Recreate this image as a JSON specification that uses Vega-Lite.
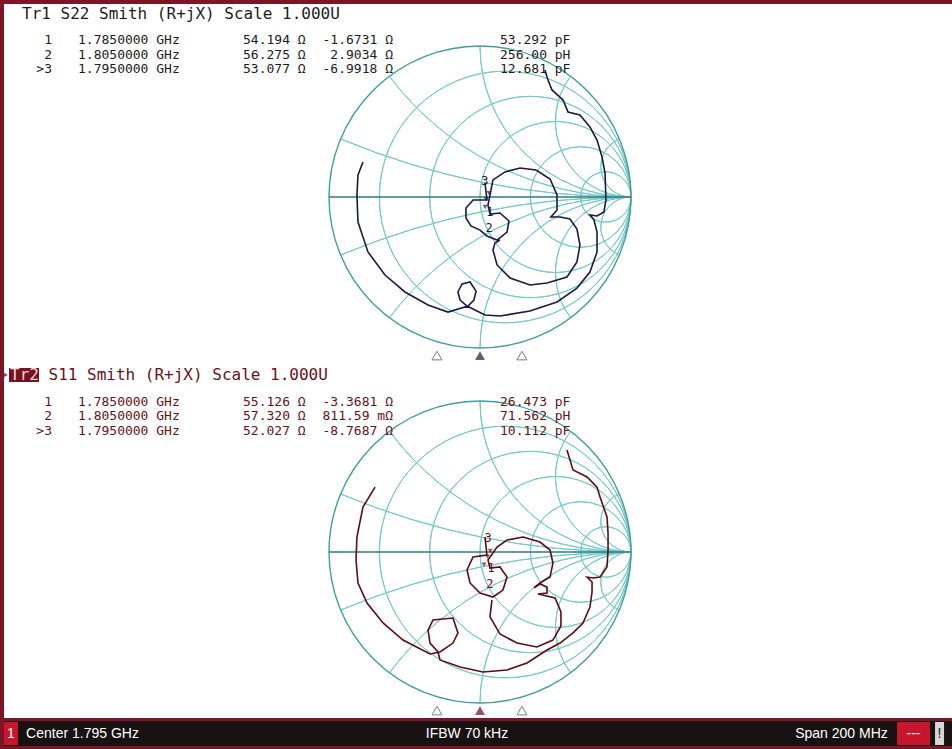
{
  "$schema": "https://vega.github.io/schema/vega-lite/v6.json",
  "background": "#7c1626",
  "padding": {"left": 4, "top": 4, "right": 0, "bottom": 3},
  "config": {"view": {"stroke": null, "fill": "#ffffff"}, "text": {"font": "DejaVu Sans Mono", "fontSize": 13}},
  "datasets": {
    "grid": [
      {"x": 0.1667, "y": 0, "rad": 0.8333, "t1": 0, "t2": 360},
      {"x": 0.3333, "y": 0, "rad": 0.6667, "t1": 0, "t2": 360},
      {"x": 0.5, "y": 0, "rad": 0.5, "t1": 0, "t2": 360},
      {"x": 0.6667, "y": 0, "rad": 0.3333, "t1": 0, "t2": 360},
      {"x": 0.8333, "y": 0, "rad": 0.1667, "t1": 0, "t2": 360},
      {"x": 1, "y": 5, "rad": 5, "t1": 180, "t2": 202.62},
      {"x": 1, "y": 2, "rad": 2, "t1": 180, "t2": 233.13},
      {"x": 1, "y": 1, "rad": 1, "t1": 180, "t2": 270},
      {"x": 1, "y": 0.5, "rad": 0.5, "t1": 180, "t2": 306.87},
      {"x": 1, "y": 0.2, "rad": 0.2, "t1": 180, "t2": 337.38},
      {"x": 1, "y": -5, "rad": 5, "t1": -22.62, "t2": 0},
      {"x": 1, "y": -2, "rad": 2, "t1": -53.13, "t2": 0},
      {"x": 1, "y": -1, "rad": 1, "t1": -90, "t2": 0},
      {"x": 1, "y": -0.5, "rad": 0.5, "t1": -126.87, "t2": 0},
      {"x": 1, "y": -0.2, "rad": 0.2, "t1": -157.38, "t2": 0}
    ],
    "rim": [{"x": 0, "y": 0, "rad": 1, "t1": 0, "t2": 360}],
    "axis": [{"x": -1, "x2": 1, "y": 0}],
    "tri": [{"x": -0.285, "y": -1.05, "a": 0}, {"x": 0, "y": -1.05, "a": 1}, {"x": 0.278, "y": -1.05, "a": 0}],
    "trace1": [
      {"seg": "a", "x": 0.430, "y": 0.841}, {"seg": "a", "x": 0.450, "y": 0.775}, {"seg": "a", "x": 0.477, "y": 0.709},
      {"seg": "a", "x": 0.550, "y": 0.642}, {"seg": "a", "x": 0.583, "y": 0.563}, {"seg": "a", "x": 0.662, "y": 0.543},
      {"seg": "a", "x": 0.728, "y": 0.464}, {"seg": "a", "x": 0.775, "y": 0.377}, {"seg": "a", "x": 0.808, "y": 0.265},
      {"seg": "a", "x": 0.828, "y": 0.159}, {"seg": "a", "x": 0.834, "y": -0.020}, {"seg": "a", "x": 0.821, "y": -0.099},
      {"seg": "a", "x": 0.775, "y": -0.126}, {"seg": "a", "x": 0.728, "y": -0.119}, {"seg": "a", "x": 0.755, "y": -0.152},
      {"seg": "a", "x": 0.775, "y": -0.232}, {"seg": "a", "x": 0.775, "y": -0.364}, {"seg": "a", "x": 0.728, "y": -0.497},
      {"seg": "a", "x": 0.642, "y": -0.603}, {"seg": "a", "x": 0.510, "y": -0.695}, {"seg": "a", "x": 0.331, "y": -0.755},
      {"seg": "a", "x": 0.132, "y": -0.788}, {"seg": "a", "x": 0.033, "y": -0.781}, {"seg": "a", "x": -0.086, "y": -0.722},
      {"seg": "a", "x": -0.132, "y": -0.682}, {"seg": "a", "x": -0.146, "y": -0.629}, {"seg": "a", "x": -0.119, "y": -0.576},
      {"seg": "a", "x": -0.066, "y": -0.563}, {"seg": "a", "x": -0.026, "y": -0.623}, {"seg": "a", "x": -0.040, "y": -0.682},
      {"seg": "a", "x": -0.079, "y": -0.722}, {"seg": "a", "x": -0.212, "y": -0.762}, {"seg": "a", "x": -0.344, "y": -0.715},
      {"seg": "a", "x": -0.497, "y": -0.629}, {"seg": "a", "x": -0.629, "y": -0.517}, {"seg": "a", "x": -0.742, "y": -0.364},
      {"seg": "a", "x": -0.808, "y": -0.166}, {"seg": "a", "x": -0.815, "y": 0.013}, {"seg": "a", "x": -0.808, "y": 0.146},
      {"seg": "a", "x": -0.775, "y": 0.232},
      {"seg": "b", "x": 0.033, "y": 0.093}, {"seg": "b", "x": 0.046, "y": -0.020}, {"seg": "b", "x": -0.046, "y": -0.020},
      {"seg": "b", "x": -0.093, "y": -0.073}, {"seg": "b", "x": -0.093, "y": -0.139}, {"seg": "b", "x": -0.060, "y": -0.192},
      {"seg": "b", "x": 0.000, "y": -0.219}, {"seg": "b", "x": 0.046, "y": -0.258}, {"seg": "b", "x": 0.113, "y": -0.285},
      {"seg": "b", "x": 0.179, "y": -0.232}, {"seg": "b", "x": 0.192, "y": -0.159}, {"seg": "b", "x": 0.132, "y": -0.106},
      {"seg": "b", "x": 0.066, "y": -0.113}, {"seg": "b", "x": 0.053, "y": -0.053}, {"seg": "b", "x": 0.086, "y": 0.113},
      {"seg": "b", "x": 0.166, "y": 0.166}, {"seg": "b", "x": 0.265, "y": 0.192}, {"seg": "b", "x": 0.371, "y": 0.179},
      {"seg": "b", "x": 0.464, "y": 0.119}, {"seg": "b", "x": 0.510, "y": 0.013}, {"seg": "b", "x": 0.510, "y": -0.086},
      {"seg": "b", "x": 0.470, "y": -0.132}, {"seg": "b", "x": 0.530, "y": -0.132}, {"seg": "b", "x": 0.596, "y": -0.146},
      {"seg": "b", "x": 0.642, "y": -0.212}, {"seg": "b", "x": 0.662, "y": -0.318}, {"seg": "b", "x": 0.642, "y": -0.430},
      {"seg": "b", "x": 0.576, "y": -0.530}, {"seg": "b", "x": 0.444, "y": -0.570}, {"seg": "b", "x": 0.331, "y": -0.583},
      {"seg": "b", "x": 0.199, "y": -0.536}, {"seg": "b", "x": 0.113, "y": -0.450}, {"seg": "b", "x": 0.086, "y": -0.351},
      {"seg": "b", "x": 0.099, "y": -0.305}, {"seg": "b", "x": 0.132, "y": -0.285}
    ],
    "trace2": [
      {"seg": "a", "x": 0.576, "y": 0.675}, {"seg": "a", "x": 0.616, "y": 0.543}, {"seg": "a", "x": 0.709, "y": 0.497},
      {"seg": "a", "x": 0.775, "y": 0.430}, {"seg": "a", "x": 0.795, "y": 0.364}, {"seg": "a", "x": 0.841, "y": 0.232},
      {"seg": "a", "x": 0.848, "y": 0.126}, {"seg": "a", "x": 0.848, "y": 0.013}, {"seg": "a", "x": 0.841, "y": -0.099},
      {"seg": "a", "x": 0.795, "y": -0.166}, {"seg": "a", "x": 0.748, "y": -0.172}, {"seg": "a", "x": 0.709, "y": -0.166},
      {"seg": "a", "x": 0.742, "y": -0.199}, {"seg": "a", "x": 0.742, "y": -0.265}, {"seg": "a", "x": 0.728, "y": -0.364},
      {"seg": "a", "x": 0.682, "y": -0.470}, {"seg": "a", "x": 0.616, "y": -0.536}, {"seg": "a", "x": 0.530, "y": -0.603},
      {"seg": "a", "x": 0.444, "y": -0.649}, {"seg": "a", "x": 0.311, "y": -0.735}, {"seg": "a", "x": 0.179, "y": -0.781},
      {"seg": "a", "x": 0.020, "y": -0.795}, {"seg": "a", "x": -0.132, "y": -0.762}, {"seg": "a", "x": -0.265, "y": -0.715},
      {"seg": "a", "x": -0.278, "y": -0.662}, {"seg": "a", "x": -0.331, "y": -0.603}, {"seg": "a", "x": -0.344, "y": -0.517},
      {"seg": "a", "x": -0.311, "y": -0.450}, {"seg": "a", "x": -0.179, "y": -0.437}, {"seg": "a", "x": -0.146, "y": -0.536},
      {"seg": "a", "x": -0.179, "y": -0.603}, {"seg": "a", "x": -0.265, "y": -0.662}, {"seg": "a", "x": -0.331, "y": -0.675},
      {"seg": "a", "x": -0.510, "y": -0.583}, {"seg": "a", "x": -0.642, "y": -0.470}, {"seg": "a", "x": -0.748, "y": -0.338},
      {"seg": "a", "x": -0.808, "y": -0.205}, {"seg": "a", "x": -0.821, "y": -0.053}, {"seg": "a", "x": -0.815, "y": 0.099},
      {"seg": "a", "x": -0.775, "y": 0.298}, {"seg": "a", "x": -0.695, "y": 0.430},
      {"seg": "b", "x": 0.033, "y": 0.099}, {"seg": "b", "x": 0.046, "y": -0.020}, {"seg": "b", "x": -0.046, "y": -0.033},
      {"seg": "b", "x": -0.086, "y": -0.119}, {"seg": "b", "x": -0.066, "y": -0.205}, {"seg": "b", "x": 0.000, "y": -0.272},
      {"seg": "b", "x": 0.086, "y": -0.298}, {"seg": "b", "x": 0.152, "y": -0.252}, {"seg": "b", "x": 0.179, "y": -0.166},
      {"seg": "b", "x": 0.132, "y": -0.099}, {"seg": "b", "x": 0.066, "y": -0.106}, {"seg": "b", "x": 0.053, "y": -0.053},
      {"seg": "b", "x": 0.113, "y": 0.033}, {"seg": "b", "x": 0.179, "y": 0.079}, {"seg": "b", "x": 0.285, "y": 0.099},
      {"seg": "b", "x": 0.397, "y": 0.066}, {"seg": "b", "x": 0.464, "y": 0.013}, {"seg": "b", "x": 0.483, "y": -0.073},
      {"seg": "b", "x": 0.464, "y": -0.166}, {"seg": "b", "x": 0.397, "y": -0.205}, {"seg": "b", "x": 0.358, "y": -0.238},
      {"seg": "b", "x": 0.397, "y": -0.212}, {"seg": "b", "x": 0.444, "y": -0.232}, {"seg": "b", "x": 0.444, "y": -0.272},
      {"seg": "b", "x": 0.384, "y": -0.278}, {"seg": "b", "x": 0.497, "y": -0.305}, {"seg": "b", "x": 0.536, "y": -0.397},
      {"seg": "b", "x": 0.536, "y": -0.490}, {"seg": "b", "x": 0.483, "y": -0.583}, {"seg": "b", "x": 0.377, "y": -0.629},
      {"seg": "b", "x": 0.245, "y": -0.603}, {"seg": "b", "x": 0.132, "y": -0.543}, {"seg": "b", "x": 0.066, "y": -0.430},
      {"seg": "b", "x": 0.079, "y": -0.318}
    ],
    "mk1": [{"x": 0.0405, "y": -0.0154}, {"x": 0.0598, "y": 0.0257}, {"x": 0.0343, "y": -0.0655}],
    "mk2": [{"x": 0.0497, "y": -0.0305}, {"x": 0.0682, "y": 0.0070}, {"x": 0.0270, "y": -0.0836}],
    "lb1": [{"x": 0.033, "y": 0.106, "t": "3"}, {"x": 0.066, "y": -0.099, "t": "1"}, {"x": 0.060, "y": -0.205, "t": "2"}],
    "lb2": [{"x": 0.053, "y": 0.093, "t": "3"}, {"x": 0.073, "y": -0.106, "t": "1"}, {"x": 0.066, "y": -0.212, "t": "2"}],
    "hd1": [{"x": -3.0331, "y": 1.2119, "t": "Tr1 S22 Smith (R+jX) Scale 1.000U"}],
    "ro1": [
      {"y": 1.0397,
       "n": ["1", "2", ">3"],
       "f": ["1.7850000 GHz", "1.8050000 GHz", "1.7950000 GHz"],
       "r": ["54.194 Ω", "56.275 Ω", "53.077 Ω"],
       "v": ["-1.6731 Ω", "2.9034 Ω", "-6.9918 Ω"],
       "c": ["53.292 pF", "256.00 pH", "12.681 pF"]}
    ],
    "box2": [{"x": -3.1192, "x2": -2.9205, "y": 1.2185, "y2": 1.1258}],
    "arr2": [{"x": -3.1457, "y": 1.1722}],
    "hd2": [{"x": -2.8576, "y": 1.1722, "t": "S11 Smith (R+jX) Scale 1.000U"}],
    "hd2b": [{"x": -3.1126, "y": 1.1722, "t": "Tr2"}],
    "ro2": [
      {"y": 0.9934,
       "n": ["1", "2", ">3"],
       "f": ["1.7850000 GHz", "1.8050000 GHz", "1.7950000 GHz"],
       "r": ["55.126 Ω", "57.320 Ω", "52.027 Ω"],
       "v": ["-3.3681 Ω", "811.59 mΩ", "-8.7687 Ω"],
       "c": ["26.473 pF", "71.562 pH", "10.112 pF"]}
    ],
    "sbox": [
      {"x": 0, "x2": 0.0148, "y": 0.04, "y2": 0.96, "k": "red"},
      {"x": 0.942, "x2": 0.9768, "y": 0.04, "y2": 0.96, "k": "red"},
      {"x": 0.9821, "x2": 0.9916, "y": 0.04, "y2": 0.96, "k": "gray"}
    ],
    "stext": [
      {"x": 0.0074, "y": 0.5, "t": "1"},
      {"x": 0.0828, "y": 0.5, "t": "Center 1.795 GHz"},
      {"x": 0.4884, "y": 0.5, "t": "IFBW 70 kHz"},
      {"x": 0.8834, "y": 0.5, "t": "Span 200 MHz"},
      {"x": 0.9594, "y": 0.5, "t": "---"},
      {"x": 0.9868, "y": 0.5, "t": "!"}
    ]
  },
  "spacing": 3,
  "vconcat": [
    {
      "spacing": 0,
      "vconcat": [
        {
          "width": 948,
          "height": 357,
          "encoding": {
            "y": {"field": "y", "type": "quantitative", "scale": {"domain": [-1.08609, 1.27815], "nice": false, "zero": false}, "axis": null}
          },
          "layer": [
            {"data": {"name": "grid"}, "mark": {"type": "arc", "filled": false, "color": "#72cbc9", "strokeWidth": 1, "clip": true},
             "encoding": {"x": {"field": "x", "type": "quantitative", "scale": {"domain": [-3.15232, 3.12583], "nice": false, "zero": false}, "axis": null},
                          "radius": {"field": "rad", "type": "quantitative", "scale": {"type": "linear", "domain": [0, 1], "range": [0, 151], "zero": true, "nice": false}},
                          "radius2": {"field": "rad"},
                          "theta": {"field": "t1", "type": "quantitative", "stack": null, "scale": {"type": "linear", "domain": [0, 360], "range": [0, 6.283185307], "zero": false, "nice": false}},
                          "theta2": {"field": "t2"}}},
            {"data": {"name": "rim"}, "mark": {"type": "arc", "filled": false, "color": "#3f9f9f", "strokeWidth": 1.4, "clip": true},
             "encoding": {"x": {"field": "x", "type": "quantitative", "scale": {"domain": [-3.15232, 3.12583], "nice": false, "zero": false}, "axis": null},
                          "radius": {"field": "rad", "type": "quantitative", "scale": {"type": "linear", "domain": [0, 1], "range": [0, 151], "zero": true, "nice": false}},
                          "radius2": {"field": "rad"},
                          "theta": {"field": "t1", "type": "quantitative", "stack": null, "scale": {"type": "linear", "domain": [0, 360], "range": [0, 6.283185307], "zero": false, "nice": false}},
                          "theta2": {"field": "t2"}}},
            {"data": {"name": "axis"}, "mark": {"type": "rule", "color": "#2e7d7e", "strokeWidth": 1.5},
             "encoding": {"x": {"field": "x", "type": "quantitative", "scale": {"domain": [-3.15232, 3.12583], "nice": false, "zero": false}, "axis": null}, "x2": {"field": "x2"}}},
            {"data": {"name": "trace1"}, "mark": {"type": "line", "color": "#1a1a48", "strokeWidth": 1.6, "clip": true},
             "encoding": {"x": {"field": "x", "type": "quantitative", "scale": {"domain": [-3.15232, 3.12583], "nice": false, "zero": false}, "axis": null}, "detail": {"field": "seg"}, "order": {"value": null}}},
            {"data": {"name": "mk1"}, "mark": {"type": "point", "shape": "triangle-down", "filled": true, "size": 24, "color": "#1a1a48"},
             "encoding": {"x": {"field": "x", "type": "quantitative", "scale": {"domain": [-3.15232, 3.12583], "nice": false, "zero": false}, "axis": null}}},
            {"data": {"name": "lb1"}, "mark": {"type": "text", "fontSize": 12, "baseline": "middle", "color": "#1a1a48"},
             "encoding": {"x": {"field": "x", "type": "quantitative", "scale": {"domain": [-3.15232, 3.12583], "nice": false, "zero": false}, "axis": null}, "text": {"field": "t"}}},
            {"data": {"name": "tri"}, "transform": [{"filter": "datum.a == 0"}], "mark": {"type": "point", "shape": "triangle-up", "filled": false, "size": 100, "color": "#444444", "strokeWidth": 1, "clip": true},
             "encoding": {"x": {"field": "x", "type": "quantitative", "scale": {"domain": [-3.15232, 3.12583], "nice": false, "zero": false}, "axis": null}}},
            {"data": {"name": "tri"}, "transform": [{"filter": "datum.a == 1"}], "mark": {"type": "point", "shape": "triangle-up", "filled": true, "size": 100, "color": "#1a1a48", "clip": true},
             "encoding": {"x": {"field": "x", "type": "quantitative", "scale": {"domain": [-3.15232, 3.12583], "nice": false, "zero": false}, "axis": null}}},
            {"data": {"name": "hd1"}, "mark": {"type": "text", "fontSize": 16, "align": "left", "baseline": "middle", "color": "#1c1c1c", "clip": true},
             "encoding": {"x": {"field": "x", "type": "quantitative", "scale": {"domain": [-3.15232, 3.12583], "nice": false, "zero": false}, "axis": null}, "text": {"field": "t"}}},
            {"data": {"name": "ro1"}, "mark": {"type": "text", "align": "right", "baseline": "middle", "lineHeight": 14.5, "color": "#1c1c1c"},
             "encoding": {"x": {"datum": -2.8344, "type": "quantitative", "scale": {"domain": [-3.15232, 3.12583], "nice": false, "zero": false}, "axis": null}, "text": {"field": "n"}}},
            {"data": {"name": "ro1"}, "mark": {"type": "text", "align": "left", "baseline": "middle", "lineHeight": 14.5, "color": "#1c1c1c"},
             "encoding": {"x": {"datum": -2.6623, "type": "quantitative", "scale": {"domain": [-3.15232, 3.12583], "nice": false, "zero": false}, "axis": null}, "text": {"field": "f"}}},
            {"data": {"name": "ro1"}, "mark": {"type": "text", "align": "left", "baseline": "middle", "lineHeight": 14.5, "color": "#1c1c1c"},
             "encoding": {"x": {"datum": -1.5695, "type": "quantitative", "scale": {"domain": [-3.15232, 3.12583], "nice": false, "zero": false}, "axis": null}, "text": {"field": "r"}}},
            {"data": {"name": "ro1"}, "mark": {"type": "text", "align": "right", "baseline": "middle", "lineHeight": 14.5, "color": "#1c1c1c"},
             "encoding": {"x": {"datum": -0.5762, "type": "quantitative", "scale": {"domain": [-3.15232, 3.12583], "nice": false, "zero": false}, "axis": null}, "text": {"field": "v"}}},
            {"data": {"name": "ro1"}, "mark": {"type": "text", "align": "left", "baseline": "middle", "lineHeight": 14.5, "color": "#1c1c1c"},
             "encoding": {"x": {"datum": 0.1325, "type": "quantitative", "scale": {"domain": [-3.15232, 3.12583], "nice": false, "zero": false}, "axis": null}, "text": {"field": "c"}}}
          ]
        },
        {
          "width": 948,
          "height": 357,
          "encoding": {
            "y": {"field": "y", "type": "quantitative", "scale": {"domain": [-1.09934, 1.26490], "nice": false, "zero": false}, "axis": null}
          },
          "layer": [
            {"data": {"name": "grid"}, "mark": {"type": "arc", "filled": false, "color": "#72cbc9", "strokeWidth": 1, "clip": true},
             "encoding": {"x": {"field": "x", "type": "quantitative", "scale": {"domain": [-3.15232, 3.12583], "nice": false, "zero": false}, "axis": null},
                          "radius": {"field": "rad", "type": "quantitative", "scale": {"type": "linear", "domain": [0, 1], "range": [0, 151], "zero": true, "nice": false}},
                          "radius2": {"field": "rad"},
                          "theta": {"field": "t1", "type": "quantitative", "stack": null, "scale": {"type": "linear", "domain": [0, 360], "range": [0, 6.283185307], "zero": false, "nice": false}},
                          "theta2": {"field": "t2"}}},
            {"data": {"name": "rim"}, "mark": {"type": "arc", "filled": false, "color": "#3f9f9f", "strokeWidth": 1.4, "clip": true},
             "encoding": {"x": {"field": "x", "type": "quantitative", "scale": {"domain": [-3.15232, 3.12583], "nice": false, "zero": false}, "axis": null},
                          "radius": {"field": "rad", "type": "quantitative", "scale": {"type": "linear", "domain": [0, 1], "range": [0, 151], "zero": true, "nice": false}},
                          "radius2": {"field": "rad"},
                          "theta": {"field": "t1", "type": "quantitative", "stack": null, "scale": {"type": "linear", "domain": [0, 360], "range": [0, 6.283185307], "zero": false, "nice": false}},
                          "theta2": {"field": "t2"}}},
            {"data": {"name": "axis"}, "mark": {"type": "rule", "color": "#2e7d7e", "strokeWidth": 1.5},
             "encoding": {"x": {"field": "x", "type": "quantitative", "scale": {"domain": [-3.15232, 3.12583], "nice": false, "zero": false}, "axis": null}, "x2": {"field": "x2"}}},
            {"data": {"name": "trace2"}, "mark": {"type": "line", "color": "#5e0c12", "strokeWidth": 1.6, "clip": true},
             "encoding": {"x": {"field": "x", "type": "quantitative", "scale": {"domain": [-3.15232, 3.12583], "nice": false, "zero": false}, "axis": null}, "detail": {"field": "seg"}, "order": {"value": null}}},
            {"data": {"name": "mk2"}, "mark": {"type": "point", "shape": "triangle-down", "filled": true, "size": 24, "color": "#6a1018"},
             "encoding": {"x": {"field": "x", "type": "quantitative", "scale": {"domain": [-3.15232, 3.12583], "nice": false, "zero": false}, "axis": null}}},
            {"data": {"name": "lb2"}, "mark": {"type": "text", "fontSize": 12, "baseline": "middle", "color": "#6a1018"},
             "encoding": {"x": {"field": "x", "type": "quantitative", "scale": {"domain": [-3.15232, 3.12583], "nice": false, "zero": false}, "axis": null}, "text": {"field": "t"}}},
            {"data": {"name": "tri"}, "transform": [{"filter": "datum.a == 0"}], "mark": {"type": "point", "shape": "triangle-up", "filled": false, "size": 100, "color": "#5a4040", "strokeWidth": 1, "clip": true},
             "encoding": {"x": {"field": "x", "type": "quantitative", "scale": {"domain": [-3.15232, 3.12583], "nice": false, "zero": false}, "axis": null}}},
            {"data": {"name": "tri"}, "transform": [{"filter": "datum.a == 1"}], "mark": {"type": "point", "shape": "triangle-up", "filled": true, "size": 100, "color": "#6a1018", "clip": true},
             "encoding": {"x": {"field": "x", "type": "quantitative", "scale": {"domain": [-3.15232, 3.12583], "nice": false, "zero": false}, "axis": null}}},
            {"data": {"name": "box2"}, "mark": {"type": "rect", "color": "#7a1020"},
             "encoding": {"x": {"field": "x", "type": "quantitative", "scale": {"domain": [-3.15232, 3.12583], "nice": false, "zero": false}, "axis": null}, "x2": {"field": "x2"}, "y2": {"field": "y2"}}},
            {"data": {"name": "arr2"}, "mark": {"type": "point", "shape": "triangle-right", "filled": true, "size": 45, "color": "#5e0c12", "clip": true},
             "encoding": {"x": {"field": "x", "type": "quantitative", "scale": {"domain": [-3.15232, 3.12583], "nice": false, "zero": false}, "axis": null}}},
            {"data": {"name": "hd2"}, "mark": {"type": "text", "fontSize": 16, "align": "left", "baseline": "middle", "color": "#6a1018", "clip": true},
             "encoding": {"x": {"field": "x", "type": "quantitative", "scale": {"domain": [-3.15232, 3.12583], "nice": false, "zero": false}, "axis": null}, "text": {"field": "t"}}},
            {"data": {"name": "hd2b"}, "mark": {"type": "text", "fontSize": 16, "align": "left", "baseline": "middle", "color": "#f2dede", "clip": true},
             "encoding": {"x": {"field": "x", "type": "quantitative", "scale": {"domain": [-3.15232, 3.12583], "nice": false, "zero": false}, "axis": null}, "text": {"field": "t"}}},
            {"data": {"name": "ro2"}, "mark": {"type": "text", "align": "right", "baseline": "middle", "lineHeight": 14.5, "color": "#6a1018"},
             "encoding": {"x": {"datum": -2.8344, "type": "quantitative", "scale": {"domain": [-3.15232, 3.12583], "nice": false, "zero": false}, "axis": null}, "text": {"field": "n"}}},
            {"data": {"name": "ro2"}, "mark": {"type": "text", "align": "left", "baseline": "middle", "lineHeight": 14.5, "color": "#6a1018"},
             "encoding": {"x": {"datum": -2.6623, "type": "quantitative", "scale": {"domain": [-3.15232, 3.12583], "nice": false, "zero": false}, "axis": null}, "text": {"field": "f"}}},
            {"data": {"name": "ro2"}, "mark": {"type": "text", "align": "left", "baseline": "middle", "lineHeight": 14.5, "color": "#6a1018"},
             "encoding": {"x": {"datum": -1.5695, "type": "quantitative", "scale": {"domain": [-3.15232, 3.12583], "nice": false, "zero": false}, "axis": null}, "text": {"field": "r"}}},
            {"data": {"name": "ro2"}, "mark": {"type": "text", "align": "right", "baseline": "middle", "lineHeight": 14.5, "color": "#6a1018"},
             "encoding": {"x": {"datum": -0.5762, "type": "quantitative", "scale": {"domain": [-3.15232, 3.12583], "nice": false, "zero": false}, "axis": null}, "text": {"field": "v"}}},
            {"data": {"name": "ro2"}, "mark": {"type": "text", "align": "left", "baseline": "middle", "lineHeight": 14.5, "color": "#6a1018"},
             "encoding": {"x": {"datum": 0.1325, "type": "quantitative", "scale": {"domain": [-3.15232, 3.12583], "nice": false, "zero": false}, "axis": null}, "text": {"field": "c"}}}
          ]
        }
      ]
    },
    {
      "width": 948,
      "height": 25,
      "view": {"fill": "#181212", "stroke": null},
      "encoding": {
        "x": {"field": "x", "type": "quantitative", "scale": {"domain": [0, 1], "nice": false, "zero": false}, "axis": null},
        "y": {"field": "y", "type": "quantitative", "scale": {"domain": [0, 1], "nice": false, "zero": false}, "axis": null}
      },
      "layer": [
        {"data": {"name": "sbox"}, "mark": {"type": "rect"},
         "encoding": {"x2": {"field": "x2"}, "y2": {"field": "y2"},
                      "color": {"field": "k", "type": "nominal", "scale": {"domain": ["red", "gray"], "range": ["#c8162c", "#d8d4d4"]}, "legend": null}}},
        {"data": {"name": "stext"}, "mark": {"type": "text", "font": "Liberation Sans", "fontSize": 14, "baseline": "middle", "align": "center"},
         "encoding": {"text": {"field": "t"}, "color": {"condition": {"test": "datum.t == '!'", "value": "#202020"}, "value": "#ffffff"}}}
      ]
    }
  ]
}
